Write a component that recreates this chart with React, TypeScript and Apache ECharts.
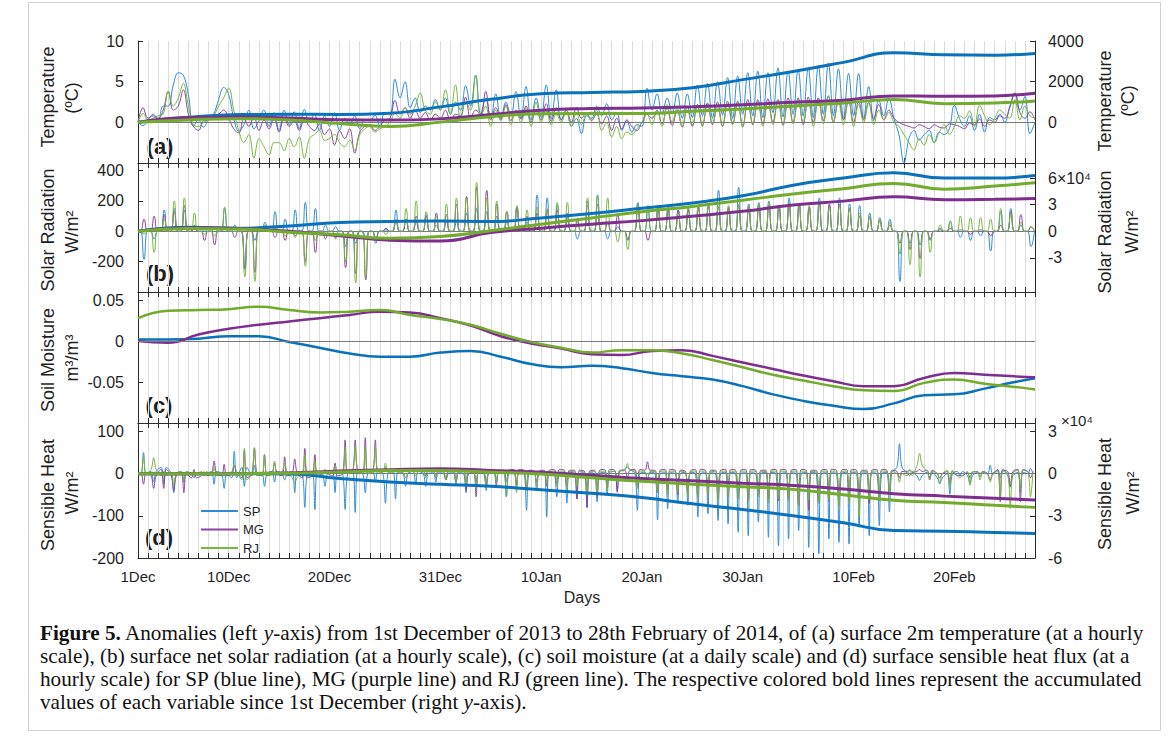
import React, { useEffect, useRef } from 'react';
import * as echarts from 'echarts';

// ---------- tick labels ----------
const X_LABEL_DAYS = [0, 9, 19, 30, 40, 50, 60, 71, 81];
const X_LABELS = ['1Dec', '10Dec', '20Dec', '31Dec', '10Jan', '20Jan', '30Jan', '10Feb', '20Feb'];

// ---------- (a) temperature anomalies, values every 12 h from 1 Dec 00h ----------
const SP_TEMP = [0,-0.4,0.3,1.0,0.2,2.0,2.0,4.6,6.1,5.8,3.4,-0.5,0.3,-0.6,0.4,1.0,2.8,4.3,3.4,0.5,-1.1,-0.3,1.5,-0.8,0.2,1.5,-0.5,1.2,-1.0,1.5,-0.3,1.3,-0.8,1.6,0.0,1.0,-1.0,0.8,-0.5,1.2,-1.0,0.5,-0.3,0.8,-0.8,0.3,0.2,0.9,-0.5,1.2,1.0,5.3,3.0,5.0,1.8,3.0,1.2,2.0,1.5,2.8,1.5,3.0,1.0,2.5,1.5,4.5,2.0,5.8,1.0,3.0,0.5,3.5,0.3,2.5,0.8,3.8,0.5,4.4,0.3,3.0,0.6,4.6,0.4,4.0,0.3,1.5,-0.5,0.5,-1.4,0.8,0.5,2.0,0.8,2.3,0.3,1.2,-1.0,0.2,-1.2,-0.3,-0.5,4.2,1.5,3.5,1.0,3.0,1.2,3.6,0.5,3.5,0.6,4.6,0.8,4.8,0.5,5.0,0.9,5.5,0.5,5.7,1.0,6.1,0.8,6.3,0.6,6.1,1.2,6.7,0.7,6.3,1.0,6.5,0.8,6.7,0.6,7.0,1.0,7.3,0.8,6.6,0.5,6.0,0.8,6.0,0.5,4.4,0.2,2.7,0.8,3.0,0.5,-1.5,-5.0,-2.0,-1.0,-2.2,-1.5,-1.0,-2.5,-1.2,-1.5,-0.8,2.1,0.5,-0.5,0.8,-1.0,1.0,-1.2,0.6,0.3,1.0,0.0,2.0,3.6,1.5,3.2,-1.4,0];
const MG_TEMP = [0,1.8,0.5,0.8,0.5,1.5,3.8,1.5,2.0,4.0,1.0,-0.5,-1.0,0.2,0.3,0.8,1.0,1.5,0.5,-0.8,-1.3,0.5,-0.5,0.7,-1.0,0.3,-0.8,0.5,-1.2,0.6,-0.5,0.2,-1.0,0.4,-0.5,-1.0,-0.2,-1.5,-0.8,-2.8,-1.0,-2.0,-0.8,-3.8,-1.2,-0.5,-0.3,-1.0,-0.5,0.3,0.5,2.7,1.0,1.8,0.5,1.5,0.5,1.2,0.3,1.0,0.5,1.5,0.3,1.0,0.8,3.1,0.5,1.5,1.0,3.8,0.3,1.8,0.5,2.2,0.2,1.5,0.4,2.0,0.0,1.6,0.3,2.3,0.1,1.8,0.3,1.5,0.0,1.8,0.5,1.2,0.2,1.0,-0.2,0.8,-1.0,0.5,-0.8,0.3,-0.5,-1.0,0.0,1.0,0.5,1.5,-0.2,1.8,-0.4,1.5,-0.6,2.0,-0.5,2.2,-0.4,2.4,-0.3,2.5,-0.5,2.6,-0.2,2.6,-0.5,2.8,-0.3,2.8,-0.2,2.9,0.0,2.8,-0.3,3.0,0.0,3.0,-0.3,3.1,0.0,3.0,0.2,3.2,0.0,2.8,0.3,2.7,0.0,2.6,0.3,2.4,0.5,2.2,0.3,1.5,0.5,0.0,-0.3,-0.5,-0.7,-0.3,-0.5,-0.8,-0.3,-0.6,-0.7,-0.2,-0.3,-0.5,-0.8,-0.1,-0.3,0.4,-0.5,0.3,0.0,0.8,0.5,1.8,3.6,1.2,0.5,1.3,0.3];
const RJ_TEMP = [0,1.1,0.3,0.5,0.8,1.0,3.8,2.0,3.0,4.8,2.0,-0.3,-0.5,0.0,0.3,0.8,2.0,3.0,4.2,1.5,-1.0,-2.5,-1.5,-4.4,-2.0,-3.0,-4.0,-2.5,-2.5,-3.5,-2.0,-3.0,-1.8,-4.4,-2.0,-1.5,-1.0,-2.2,-2.0,-1.5,-2.5,-3.0,-2.2,-3.4,-1.5,-0.8,-0.5,-1.2,-0.8,-0.5,0.0,1.1,0.5,1.8,1.0,2.0,3.6,1.5,1.0,2.5,1.5,4.0,1.0,4.6,0.5,2.5,1.5,5.8,0.5,2.0,-0.5,1.5,0.2,2.0,-0.3,1.5,0.0,1.8,-0.5,2.5,0.0,1.5,-0.3,1.0,0.0,1.5,-0.5,1.2,-0.3,1.0,0.3,1.5,-1.0,0.0,-1.8,-0.5,-2.0,-1.2,-1.5,-0.8,0.0,1.0,-0.3,1.5,-0.5,2.2,0.0,1.8,-0.5,1.5,-0.3,2.0,-0.5,2.2,-0.2,1.8,-0.5,2.3,-0.3,2.5,-0.6,2.4,-0.2,2.6,-0.5,2.5,-0.3,2.8,-0.4,2.6,-0.2,2.9,0.0,2.7,-0.5,2.8,-0.2,3.3,0.0,2.5,-0.3,2.8,-0.5,2.2,0.0,2.5,-0.3,1.5,0.3,1.2,0.0,-0.5,-1.5,-2.5,-3.4,-2.0,-2.8,-1.5,-2.5,-1.2,-0.3,-1.5,-0.5,0.8,0.5,1.4,-0.5,2.1,0.8,-0.3,0.5,1.5,1.0,0.5,2.8,0.3,2.0,0.8,0.5];

// accumulated values (right axes), sampled at these days
const ACC_DAYS = [0,5,10,15,20,25,30,35,40,45,50,55,60,65,70,75,80,85,89];
const SP_TEMP_ACC = [0,250,380,400,390,450,760,1130,1400,1470,1520,1700,2100,2500,2950,3420,3320,3300,3390];
const MG_TEMP_ACC = [0,240,260,210,130,110,170,380,600,680,710,770,860,990,1090,1300,1280,1300,1430];
const RJ_TEMP_ACC = [0,120,180,120,-60,-200,10,280,420,440,440,540,660,800,950,1120,920,950,1050];

// ---------- (b) net solar radiation: daily midday peaks (night = 0) ----------
const SP_SOLAR = [-185,-50,140,150,140,40,10,20,150,40,-250,-60,60,130,80,140,190,150,40,30,-100,-80,-40,-80,10,140,80,60,100,40,60,60,120,150,130,100,60,160,60,240,220,170,90,-50,170,240,-50,30,-60,190,170,160,140,140,150,170,180,270,160,290,180,190,200,170,220,180,160,220,170,220,180,170,120,90,80,-330,-80,-90,-60,20,60,-40,-60,-30,-130,130,150,40,-100];
const MG_SOLAR = [80,100,110,130,170,20,-60,-90,30,-40,-250,-270,20,-40,-60,-30,-200,-140,-50,-40,-240,-280,-320,-60,20,60,80,100,110,120,110,180,230,290,270,180,130,150,100,120,140,140,120,80,200,180,60,110,-50,180,-60,150,150,140,140,150,160,160,150,170,160,170,170,160,170,170,150,180,180,180,150,100,90,70,40,-80,-120,-180,-50,10,20,10,-20,10,-30,40,130,110,30];
const RJ_SOLAR = [-20,-140,80,200,220,120,-20,-30,160,0,-300,-330,40,20,-30,-40,-230,-60,-30,-50,-200,-340,-300,-40,-20,80,150,200,130,100,180,220,220,320,220,200,130,170,140,160,150,190,190,60,220,230,220,-70,-120,180,140,170,170,120,160,170,180,190,170,180,170,180,190,170,190,180,170,190,160,170,150,120,100,80,60,-150,-220,-300,-140,40,70,100,90,90,80,150,120,60,30];
const SP_SOLAR_ACC = [0,4500,3500,6000,10000,11000,11500,11000,15000,20000,26000,32000,40000,52000,60000,66000,60000,60000,63000];
const MG_SOLAR_ACC = [0,4000,3000,0,-5000,-10000,-11000,-1500,3500,8000,12000,17000,22500,29500,34000,38800,35500,36000,36900];
const RJ_SOLAR_ACC = [0,3000,2500,-1000,-4000,-8000,-6000,500,8000,15000,22000,28000,35000,42000,48000,54000,47500,51000,54700];

// ---------- (c) soil moisture (daily) ----------
const SOIL_DAYS = [0,3,6,9,12,15,18,21,24,27,30,33,36,39,42,45,48,51,54,57,60,63,66,69,72,75,78,81,84,87,89];
const SP_SOIL = [0.002,0.002,0.003,0.006,0.006,-0.001,-0.008,-0.015,-0.019,-0.019,-0.014,-0.012,-0.019,-0.028,-0.032,-0.030,-0.033,-0.039,-0.043,-0.047,-0.055,-0.065,-0.073,-0.079,-0.083,-0.076,-0.066,-0.065,-0.058,-0.050,-0.0455];
const MG_SOIL = [0,-0.002,0.008,0.015,0.020,0.024,0.028,0.032,0.036,0.035,0.028,0.019,0.006,-0.003,-0.009,-0.016,-0.017,-0.012,-0.011,-0.018,-0.026,-0.034,-0.042,-0.049,-0.055,-0.055,-0.045,-0.039,-0.041,-0.043,-0.044];
const RJ_SOIL = [0.028,0.037,0.038,0.039,0.042,0.038,0.035,0.036,0.038,0.032,0.027,0.020,0.009,-0.001,-0.008,-0.014,-0.011,-0.011,-0.015,-0.023,-0.032,-0.041,-0.048,-0.055,-0.060,-0.061,-0.051,-0.047,-0.052,-0.056,-0.059];

// ---------- (d) sensible heat: daytime peak and night value per day ----------
const SP_HEAT = [50,-20,-25,-45,-20,-10,-5,-25,-35,53,-30,20,-30,-20,-15,-45,-80,-85,-30,-45,-85,-92,-45,-20,-70,-60,-30,-25,-30,-20,-15,-25,-45,-30,-40,-20,-55,-30,-87,-40,-103,-55,-70,-60,-80,-67,-50,-40,16,-87,-20,-110,-83,-70,-75,-103,-95,-111,-119,-139,-147,-115,-151,-171,-155,-135,-175,-190,-155,-163,-167,-127,-147,-123,-91,71,8,-16,-10,-24,-49,-5,-24,-8,20,-10,-32,-44,12];
const MG_HEAT = [-25,-35,-35,-40,-45,10,5,30,22,20,55,60,45,25,40,35,60,45,10,25,80,80,85,80,15,10,5,5,-5,-10,-15,-20,-40,-55,-25,-30,-20,-25,-35,-20,-30,-25,-30,-60,-80,-55,-35,-44,-10,-30,28,-45,-40,-50,-45,-55,-50,-60,-55,-60,-65,-50,-60,-65,-60,-75,-87,-70,-65,-75,-65,-60,-70,-55,-40,-10,-5,10,-15,-10,-25,-5,-10,0,-15,-67,-30,-67,-10];
const RJ_HEAT = [40,38,5,-25,-15,5,0,15,-5,20,60,62,45,30,25,-20,45,30,0,20,63,65,63,62,25,5,-10,-5,-10,-10,-15,-20,-25,-30,-35,-20,-55,-45,-40,-30,-25,-30,-35,-30,-50,-45,-40,-20,24,-35,-20,-45,-50,-45,-55,-60,-50,-65,-55,-60,-65,-55,-70,-60,-65,-79,-63,-70,-63,-79,-70,-103,-60,-63,-50,-20,10,48,-12,-24,-32,-10,-28,-15,-20,-55,-83,-40,-55];
const SP_HEAT_NIGHT = [0,5,15,0,5,0,0,5,0,-10,15,-5,0,5,0,5,0,5,0,5,0,5,0,5,0,5,0,5,0,2,0,2,0,3,0,2,0,3,0,2,5,0,3,0,2,0,3,5,10,0,3,0,2,0,3,0,2,0,3,0,2,0,3,0,2,0,3,0,2,0,3,0,2,0,3,15,5,-5,3,-10,0,5,-5,3,0,10,-5,3,0];
const MG_HEAT_NIGHT = [0,-5,10,-5,0,-10,-5,0,-5,0,-10,0,-5,0,-5,0,-10,-5,0,-5,0,5,0,5,5,5,5,8,8,8,6,8,10,8,6,8,8,10,8,6,8,10,8,8,6,8,10,8,8,10,8,8,10,8,6,10,8,8,10,8,10,8,8,10,8,10,8,8,10,8,10,8,8,10,8,5,3,5,8,0,5,-5,3,5,0,8,5,10,5];
const RJ_HEAT_NIGHT = [0,10,-5,0,5,0,5,-5,0,5,-15,0,-5,0,5,-10,0,-5,0,5,0,5,0,5,3,3,3,5,5,5,4,5,6,5,4,5,5,6,5,4,5,6,5,5,4,5,6,5,8,6,5,5,6,5,4,6,5,5,6,5,6,5,5,6,5,6,5,5,6,5,6,5,5,6,5,0,-5,20,5,0,8,-5,5,3,-3,5,0,8,3];
const SP_HEAT_ACC = [0,0,0,-200,-3500,-6000,-7500,-9000,-11500,-14000,-17000,-21500,-25500,-30000,-35000,-40500,-41000,-41800,-42500];
const MG_HEAT_ACC = [0,0,0,500,1800,2800,3400,2300,900,-1200,-3500,-5000,-6800,-8400,-11000,-14300,-16000,-17500,-18700];
const RJ_HEAT_ACC = [0,0,0,300,1200,2200,2200,1000,-300,-3000,-5500,-7500,-9300,-11200,-15000,-19000,-20500,-22500,-24000];

// ---------- styling ----------
const C_THIN = { SP: '#2e8bd8', MG: '#8a479b', RJ: '#78b63e' };
const C_BOLD = { SP: '#0a71bd', MG: '#7e2f8e', RJ: '#73ab2c' };
const FONT = "'Liberation Sans', Arial, Helvetica, sans-serif";
const SERIF = "'Liberation Serif', 'Times New Roman', serif";
const INK = '#1f1f1f';
const AX = '#2b2b2b';

const halfDay = (a: number[]) => a.map((v, i) => [i / 2, v]);
const solar = (p: number[]) => {
  const out: number[][] = [[0, 0]];
  p.forEach((v, d) => { out.push([d + 0.25, 0], [d + 0.6, v], [d + 0.95, 0]); });
  return out;
};
const heat = (p: number[], n: number[]) => {
  const out: number[][] = [[0, 0]];
  p.forEach((v, d) => { const nv = n[d] ?? 0; out.push([d + 0.3, nv], [d + 0.55, v], [d + 0.8, nv]); });
  return out;
};
const acc = (a: number[]) => a.map((v, i) => [ACC_DAYS[i], v]);
const soil = (a: number[]) => a.map((v, i) => [SOIL_DAYS[i], v]);

const GRIDS = [
  { top: 41, height: 122 },
  { top: 163, height: 129 },
  { top: 292, height: 131 },
  { top: 423, height: 135 },
];

function thin(name: string, data: number[][], xi: number, yi: number, smooth: number, zero = false) {
  const c = (C_THIN as any)[name];
  const s: any = {
    name, type: 'line', xAxisIndex: xi, yAxisIndex: yi, data, symbol: 'none', smooth,
    lineStyle: { width: 1, color: c }, itemStyle: { color: c }, z: 3,
  };
  if (zero) {
    s.markLine = {
      silent: true, symbol: 'none', label: { show: false }, z: 1,
      lineStyle: { color: '#7a7a7a', width: 1, type: 'solid' }, data: [{ yAxis: 0 }],
    };
  }
  return s;
}
function bold(name: string, data: number[][], xi: number, yi: number, width = 3) {
  const c = (C_BOLD as any)[name];
  return {
    name: name + ' acc', type: 'line', xAxisIndex: xi, yAxisIndex: yi, data, symbol: 'none', smooth: true,
    lineStyle: { width, color: c }, itemStyle: { color: c }, z: 4,
  };
}

function xAxisBottom(g: number) {
  return {
    type: 'value', gridIndex: g, min: 0, max: 89, interval: 1, position: 'bottom',
    axisLine: { show: true, onZero: false, lineStyle: { color: AX, width: 1 } },
    axisTick: { show: true, inside: true, length: 5, lineStyle: { color: AX } },
    splitLine: { show: true, lineStyle: { color: '#dcdcdc', width: 1 } },
    axisLabel: g === 3 ? {
      show: true, customValues: X_LABEL_DAYS, margin: 11, fontSize: 15, color: INK, fontFamily: FONT,
      formatter: (v: number) => X_LABELS[X_LABEL_DAYS.indexOf(Math.round(v))] ?? '',
    } : { show: false },
  };
}
function xAxisTop(g: number) {
  return {
    type: 'value', gridIndex: g, min: 0, max: 89, interval: 1, position: 'top',
    axisLine: { show: true, onZero: false, lineStyle: { color: AX, width: 1 } },
    axisTick: { show: true, inside: true, length: 5, lineStyle: { color: AX } },
    splitLine: { show: false }, axisLabel: { show: false },
  };
}
function yAxis(g: number, pos: 'left' | 'right', min: number, max: number, ticks: number[], fmt?: (v: number) => string) {
  return {
    type: 'value', gridIndex: g, position: pos, min, max,
    axisLine: { show: true, onZero: false, lineStyle: { color: AX, width: 1 } },
    axisTick: { show: true, inside: true, length: 5, customValues: ticks, lineStyle: { color: AX } },
    splitLine: { show: false },
    axisLabel: {
      customValues: ticks, margin: pos === 'left' ? 14 : 13, fontSize: 16, color: INK, fontFamily: FONT,
      formatter: fmt ?? ((v: number) => String(v)),
    },
  };
}

function vtext(x: number, y: number, text: string, size = 18) {
  return {
    type: 'text', x, y, rotation: Math.PI / 2, silent: true,
    style: { text, fontSize: size, fontFamily: FONT, fill: INK, align: 'center', verticalAlign: 'middle' },
  };
}
function htext(x: number, y: number, text: string, size: number, weight = 'normal', align = 'center') {
  return {
    type: 'text', x, y, silent: true,
    style: { text, fontSize: size, fontWeight: weight, fontFamily: FONT, fill: INK, align, verticalAlign: 'middle' },
  };
}

const CAPTION = [
  '{b|Figure 5.} Anomalies (left {i|y}-axis) from 1st December of 2013 to 28th February of 2014, of (a) surface 2m temperature (at a hourly',
  'scale), (b) surface net solar radiation (at a hourly scale), (c) soil moisture (at a daily scale) and (d) surface sensible heat flux (at a',
  'hourly scale) for SP (blue line), MG (purple line) and RJ (green line). The respective colored bold lines represent the accumulated',
  'values of each variable since 1st December (right {i|y}-axis).',
];

function buildOption() {
  const capStyle = { fontSize: 21.2, fontFamily: SERIF, fill: '#111' };
  return {
    animation: false,
    backgroundColor: '#ffffff',
    grid: GRIDS.map((g) => ({ left: 138, width: 897, top: g.top, height: g.height })),
    xAxis: [xAxisBottom(0), xAxisBottom(1), xAxisBottom(2), xAxisBottom(3), xAxisTop(1), xAxisTop(2), xAxisTop(3)],
    yAxis: [
      yAxis(0, 'left', -5, 10, [0, 5, 10]),
      yAxis(0, 'right', -2000, 4000, [0, 2000, 4000]),
      yAxis(1, 'left', -400, 450, [-200, 0, 200, 400]),
      yAxis(1, 'right', -68500, 77000, [-30000, 0, 30000, 60000], (v) => (v === 60000 ? '6×10⁴' : String(v / 10000))),
      yAxis(2, 'left', -0.1, 0.06, [-0.05, 0, 0.05], (v) => (v === 0 ? '0' : v.toFixed(2))),
      yAxis(3, 'left', -200, 120, [-200, -100, 0, 100]),
      yAxis(3, 'right', -60000, 36000, [-60000, -30000, 0, 30000], (v) => String(v / 10000)),
    ],
    legend: {
      data: ['SP', 'MG', 'RJ'], orient: 'vertical', left: 196, top: 499, itemWidth: 37, itemHeight: 2,
      itemGap: 4.5, icon: 'rect', selectedMode: false,
      textStyle: { fontSize: 13, lineHeight: 14, color: INK, fontFamily: FONT },
    },
    series: [
      thin('SP', halfDay(SP_TEMP), 0, 0, 0.4, true),
      thin('MG', halfDay(MG_TEMP), 0, 0, 0.4),
      thin('RJ', halfDay(RJ_TEMP), 0, 0, 0.4),
      bold('SP', acc(SP_TEMP_ACC), 0, 1),
      bold('MG', acc(MG_TEMP_ACC), 0, 1),
      bold('RJ', acc(RJ_TEMP_ACC), 0, 1),

      thin('SP', solar(SP_SOLAR), 1, 2, 0.5, true),
      thin('MG', solar(MG_SOLAR), 1, 2, 0.5),
      thin('RJ', solar(RJ_SOLAR), 1, 2, 0.5),
      bold('SP', acc(SP_SOLAR_ACC), 1, 3),
      bold('MG', acc(MG_SOLAR_ACC), 1, 3),
      bold('RJ', acc(RJ_SOLAR_ACC), 1, 3),

      { ...bold('SP', soil(SP_SOIL), 2, 4, 2.5), markLine: { silent: true, symbol: 'none', label: { show: false }, lineStyle: { color: '#7a7a7a', width: 1, type: 'solid' }, data: [{ yAxis: 0 }] } },
      bold('MG', soil(MG_SOIL), 2, 4, 2.5),
      bold('RJ', soil(RJ_SOIL), 2, 4, 2.5),

      thin('SP', heat(SP_HEAT, SP_HEAT_NIGHT), 3, 5, 0.35, true),
      thin('MG', heat(MG_HEAT, MG_HEAT_NIGHT), 3, 5, 0.35),
      thin('RJ', heat(RJ_HEAT, RJ_HEAT_NIGHT), 3, 5, 0.35),
      bold('SP', acc(SP_HEAT_ACC), 3, 6),
      bold('MG', acc(MG_HEAT_ACC), 3, 6),
      bold('RJ', acc(RJ_HEAT_ACC), 3, 6),
    ],
    graphic: [
      { type: 'rect', silent: true, z: -10, shape: { x: 28.5, y: 2.5, width: 1132, height: 728 }, style: { fill: 'none', stroke: '#cfcfcf', lineWidth: 1 } },
      vtext(48, 97, 'Temperature'), vtext(72, 98, '(ºC)'),
      vtext(48, 230, 'Solar Radiation'), vtext(72, 232, 'W/m²'),
      vtext(48, 360, 'Soil Moisture'), vtext(72, 358, 'm³/m³'),
      vtext(48, 495, 'Sensible Heat'), vtext(72, 493, 'W/m²'),
      vtext(1105, 101, 'Temperature'), vtext(1128, 101, '(ºC)'),
      vtext(1105, 232, 'Solar Radiation'), vtext(1132, 232, 'W/m²'),
      vtext(1105, 494, 'Sensible Heat'), vtext(1133, 493, 'W/m²'),
      htext(160, 146, '(a)', 22, 'bold'),
      htext(160, 273, '(b)', 22, 'bold'),
      htext(159, 405, '(c)', 22, 'bold'),
      htext(159, 537, '(d)', 22, 'bold'),
      htext(1061, 420, '×10⁴', 15, 'normal', 'left'),
      htext(582, 597, 'Days', 16),
      ...CAPTION.map((t, i) => ({
        type: 'text', x: 40, y: 633 + i * 23, silent: true,
        style: {
          text: t, ...capStyle, align: 'left', verticalAlign: 'middle',
          rich: {
            b: { ...capStyle, fontWeight: 'bold' },
            i: { ...capStyle, fontStyle: 'italic' },
          },
        },
      })),
    ],
  };
}

export default function App() {
  const ref = useRef<HTMLDivElement>(null);
  useEffect(() => {
    if (!ref.current) return;
    const chart = echarts.init(ref.current, null, { renderer: 'svg' });
    chart.setOption(buildOption() as any);
    return () => chart.dispose();
  }, []);
  return (
    <div
      ref={ref}
      style={{ position: 'fixed', left: 0, top: 0, width: 1171, height: 742, background: '#fff' }}
    />
  );
}
